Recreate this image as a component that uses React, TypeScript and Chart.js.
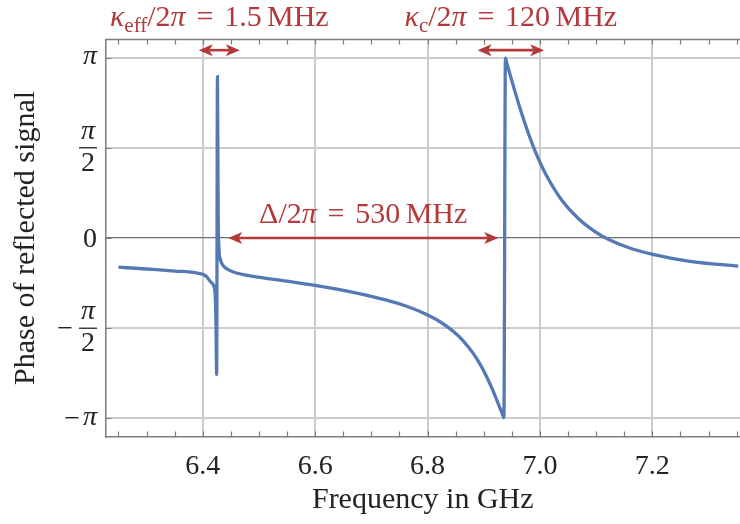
import React, { useEffect, useRef } from 'react';
import { Chart, registerables } from 'chart.js';

Chart.register(...registerables);

const PI = Math.PI;

// Frequency (GHz) and phase (rad)
const freqGHz = [
  6.25, 6.30, 6.35, 6.39, 6.405, 6.4158, 6.4217, 6.4235, 6.4248, 6.4262, 6.4275, 6.429,
  6.431, 6.435, 6.440, 6.457,
  6.4899, 6.5498, 6.5996, 6.6678, 6.7272, 6.7628, 6.7984, 6.8221, 6.8457, 6.863, 6.8813,
  6.8932, 6.9052, 6.9164, 6.9288, 6.935, 6.9359,
  6.9386, 6.9413, 6.9475, 6.9555, 6.9674, 6.9792, 6.9911, 7.0027, 7.0148, 7.0386, 7.0682,
  7.0979, 7.1215, 7.1571, 7.1988, 7.2669, 7.3529,
];
const phaseRad = [
  -0.507, -0.54, -0.575, -0.61, -0.655, -0.781, -0.927, -1.45, -2.38, 2.81, 0.40, -0.20,
  -0.36, -0.46, -0.52, -0.60,
  -0.666, -0.750, -0.825, -0.946, -1.082, -1.189, -1.332, -1.458, -1.624, -1.785, -2.009,
  -2.192, -2.414, -2.657, -2.958, -3.108, -3.13,
  3.129, 3.036, 2.822, 2.552, 2.171, 1.829, 1.521, 1.262, 1.031, 0.661, 0.339,
  0.112, -0.023, -0.166, -0.280, -0.406, -0.490,
];

const xTickValues = [6.4, 6.6, 6.8, 7.0, 7.2];
const xTickLabels = ['6.4', '6.6', '6.8', '7.0', '7.2'];
const xMinorTickValues = [
  6.25, 6.3, 6.35, 6.4, 6.45, 6.5, 6.55, 6.6, 6.65, 6.7, 6.75, 6.8, 6.85, 6.9, 6.95,
  7.0, 7.05, 7.1, 7.15, 7.2, 7.25, 7.3, 7.35,
];
const yTickValues = [-PI, -PI / 2, 0, PI / 2, PI];
const yTickLabels = ['−π', '−π/2', '0', 'π/2', 'π'];

const xRange = [6.227, 7.356];
const yRange = [-1.1 * PI, 1.1 * PI];

// Annotation spans (GHz) and levels (rad)
const kappaEffSpan = [6.393, 6.466];
const kappaCSpan = [6.889, 7.0075];
const detuningSpan = [6.4454, 6.9258];
const topArrowPhase = 3.27;
const detuningPhase = 0;

type Run = { t: string; it?: boolean; sub?: boolean; gap?: number };
const kappaEffLabel: Run[] = [
  { t: 'κ', it: true }, { t: 'eff', sub: true }, { t: '/2' }, { t: 'π', it: true },
  { t: '', gap: 0.36 }, { t: '=' }, { t: '', gap: 0.36 }, { t: '1.5' }, { t: '', gap: 0.18 }, { t: 'MHz' },
];
const kappaCLabel: Run[] = [
  { t: 'κ', it: true }, { t: 'c', sub: true }, { t: '/2' }, { t: 'π', it: true },
  { t: '', gap: 0.36 }, { t: '=' }, { t: '', gap: 0.36 }, { t: '120' }, { t: '', gap: 0.18 }, { t: 'MHz' },
];
const detuningLabel: Run[] = [
  { t: 'Δ' }, { t: '/2' }, { t: 'π', it: true },
  { t: '', gap: 0.36 }, { t: '=' }, { t: '', gap: 0.36 }, { t: '530' }, { t: '', gap: 0.18 }, { t: 'MHz' },
];

const FONT = '"Liberation Serif", "Times New Roman", serif';
const RED = '#b3393b';
const TEXT = '#232323';
const FRAME = '#7d7d7d';
const LINE = '#5479b5';

function fontFor(r: Run, size: number) {
  const s = r.sub ? size * 0.7 : size;
  return `${r.it ? 'italic ' : ''}${s}px ${FONT}`;
}

function drawRuns(ctx: CanvasRenderingContext2D, runs: Run[], cx: number, baseline: number, size: number) {
  let w = 0;
  const widths: number[] = [];
  for (const r of runs) {
    let rw = 0;
    if (r.gap) rw = r.gap * size;
    else {
      ctx.font = fontFor(r, size);
      rw = ctx.measureText(r.t).width;
    }
    widths.push(rw);
    w += rw;
  }
  let x = cx - w / 2;
  ctx.fillStyle = RED;
  ctx.textAlign = 'left';
  ctx.textBaseline = 'alphabetic';
  runs.forEach((r, i) => {
    if (!r.gap) {
      ctx.font = fontFor(r, size);
      ctx.fillText(r.t, x, baseline + (r.sub ? size * 0.2 : 0));
    }
    x += widths[i];
  });
}

function drawArrow(ctx: CanvasRenderingContext2D, x1: number, x2: number, y: number) {
  const head = 14;
  const hw = 6;
  const notch = 3.5;
  ctx.strokeStyle = RED;
  ctx.fillStyle = RED;
  ctx.lineWidth = 2.6;
  ctx.beginPath();
  ctx.moveTo(x1 + head - notch, y);
  ctx.lineTo(x2 - head + notch, y);
  ctx.stroke();
  ctx.beginPath();
  ctx.moveTo(x1, y);
  ctx.lineTo(x1 + head, y - hw);
  ctx.lineTo(x1 + head - notch, y);
  ctx.lineTo(x1 + head, y + hw);
  ctx.closePath();
  ctx.fill();
  ctx.beginPath();
  ctx.moveTo(x2, y);
  ctx.lineTo(x2 - head, y - hw);
  ctx.lineTo(x2 - head + notch, y);
  ctx.lineTo(x2 - head, y + hw);
  ctx.closePath();
  ctx.fill();
}

function fillCentered(ctx: CanvasRenderingContext2D, text: string, x: number, cy: number, align: CanvasTextAlign) {
  ctx.textAlign = align;
  ctx.textBaseline = 'alphabetic';
  const m = ctx.measureText(text);
  const base = cy + (m.actualBoundingBoxAscent - m.actualBoundingBoxDescent) / 2;
  ctx.fillText(text, x, base);
}

const decorPlugin = {
  id: 'decor',
  afterDraw(chart: any) {
    const { ctx, chartArea: ca, scales } = chart;
    const x = scales.x;
    const y = scales.y;
    ctx.save();
    // top frame line
    ctx.strokeStyle = FRAME;
    ctx.lineWidth = 1.5;
    ctx.beginPath();
    ctx.moveTo(ca.left, ca.top);
    ctx.lineTo(ca.right, ca.top);
    ctx.stroke();
    // inward tick marks
    ctx.lineWidth = 1.2;
    ctx.beginPath();
    for (const v of xMinorTickValues) {
      const px = Math.round(x.getPixelForValue(v)) + 0.5;
      ctx.moveTo(px, ca.top);
      ctx.lineTo(px, ca.top + 5);
      ctx.moveTo(px, ca.bottom);
      ctx.lineTo(px, ca.bottom - 5);
    }
    for (const v of yTickValues) {
      const py = Math.round(y.getPixelForValue(v)) + 0.5;
      ctx.moveTo(ca.left, py);
      ctx.lineTo(ca.left + 6, py);
    }
    ctx.stroke();

    // y tick labels
    ctx.fillStyle = TEXT;
    const right = ca.left - 8.5;
    const size = 28;
    yTickValues.forEach((v, i) => {
      const py = y.getPixelForValue(v);
      let lab = yTickLabels[i];
      let neg = false;
      if (lab.startsWith('−')) {
        neg = true;
        lab = lab.slice(1);
      }
      let leftEdge = right;
      if (lab.includes('/')) {
        const [num, den] = lab.split('/');
        const barW = 18;
        const cx = right - barW / 2;
        ctx.font = `italic ${size}px ${FONT}`;
        ctx.textAlign = 'center';
        ctx.textBaseline = 'alphabetic';
        ctx.fillText(num, cx, py - 9);
        ctx.font = `${size}px ${FONT}`;
        ctx.fillText(den, cx, py + 23);
        ctx.strokeStyle = TEXT;
        ctx.lineWidth = 1.3;
        ctx.beginPath();
        ctx.moveTo(right - barW, py);
        ctx.lineTo(right, py);
        ctx.stroke();
        leftEdge = right - barW - 6;
      } else {
        ctx.font = lab === 'π' ? `italic ${size}px ${FONT}` : `${size}px ${FONT}`;
        fillCentered(ctx, lab, right, py, 'right');
        leftEdge = right - ctx.measureText(lab).width - 3;
      }
      if (neg) {
        ctx.font = `${size}px ${FONT}`;
        fillCentered(ctx, '−', leftEdge, py, 'right');
      }
    });

    // annotations
    const topY = y.getPixelForValue(topArrowPhase);
    drawArrow(ctx, x.getPixelForValue(kappaEffSpan[0]), x.getPixelForValue(kappaEffSpan[1]), topY);
    drawArrow(ctx, x.getPixelForValue(kappaCSpan[0]), x.getPixelForValue(kappaCSpan[1]), topY);
    const midY = y.getPixelForValue(detuningPhase);
    drawArrow(ctx, x.getPixelForValue(detuningSpan[0]), x.getPixelForValue(detuningSpan[1]), midY);

    const annSize = 30;
    drawRuns(ctx, kappaEffLabel, (x.getPixelForValue(kappaEffSpan[0]) + x.getPixelForValue(kappaEffSpan[1])) / 2, topY - 24, annSize);
    drawRuns(ctx, kappaCLabel, (x.getPixelForValue(kappaCSpan[0]) + x.getPixelForValue(kappaCSpan[1])) / 2, topY - 24, annSize);
    drawRuns(ctx, detuningLabel, (x.getPixelForValue(detuningSpan[0]) + x.getPixelForValue(detuningSpan[1])) / 2, midY - 15, annSize);
    ctx.restore();
  },
};

export default function App() {
  const ref = useRef<HTMLCanvasElement | null>(null);
  useEffect(() => {
    if (!ref.current) return;
    const points = freqGHz.map((f, i) => ({ x: f, y: phaseRad[i] }));
    const chart = new Chart(ref.current, {
      type: 'scatter',
      data: {
        datasets: [
          {
            data: points,
            showLine: true,
            borderColor: LINE,
            backgroundColor: LINE,
            borderWidth: 3.3,
            pointRadius: 0,
            cubicInterpolationMode: 'monotone',
            fill: false,
          } as any,
        ],
      },
      options: {
        responsive: false,
        animation: false,
        devicePixelRatio: 1,
        layout: { padding: { top: 39.5, left: 0, right: 0, bottom: 0 } },
        plugins: { legend: { display: false }, tooltip: { enabled: false } },
        scales: {
          x: {
            type: 'linear',
            min: xRange[0],
            max: xRange[1],
            afterBuildTicks: (s: any) => {
              s.ticks = xTickValues.map((v) => ({ value: v }));
            },
            afterFit: (s: any) => {
              s.height = 87.5;
            },
            ticks: {
              autoSkip: false,
              maxRotation: 0,
              padding: 13,
              color: TEXT,
              font: { family: FONT, size: 28 },
              callback: (_v: any, i: number) => xTickLabels[i],
            },
            grid: { color: '#cdcdcd', lineWidth: 2, drawTicks: false },
            border: { display: true, color: FRAME, width: 1.5 },
            title: {
              display: true,
              text: 'Frequency in GHz',
              color: TEXT,
              font: { family: FONT, size: 30 },
              padding: { top: 0, bottom: 6 },
            },
          },
          y: {
            type: 'linear',
            min: yRange[0],
            max: yRange[1],
            afterBuildTicks: (s: any) => {
              s.ticks = yTickValues.map((v) => ({ value: v }));
            },
            afterFit: (s: any) => {
              s.width = 105.5;
            },
            ticks: { display: false },
            grid: {
              color: (c: any) => (Math.abs(c.tick.value) < 1e-9 ? '#6e6e6e' : '#cdcdcd'),
              lineWidth: (c: any) => (Math.abs(c.tick.value) < 1e-9 ? 1.2 : 2),
              drawTicks: false,
            },
            border: { display: true, color: FRAME, width: 1.5 },
            title: {
              display: true,
              text: 'Phase of reflected signal',
              color: TEXT,
              font: { family: FONT, size: 30 },
              padding: { top: 8, bottom: 0 },
            },
          },
        },
      },
      plugins: [decorPlugin],
    });
    return () => chart.destroy();
  }, []);
  return (
    <div style={{ position: 'fixed', left: 0, top: 0, width: 740, height: 524, background: '#fff' }}>
      <canvas ref={ref} width={740} height={524} style={{ display: 'block' }} />
    </div>
  );
}
